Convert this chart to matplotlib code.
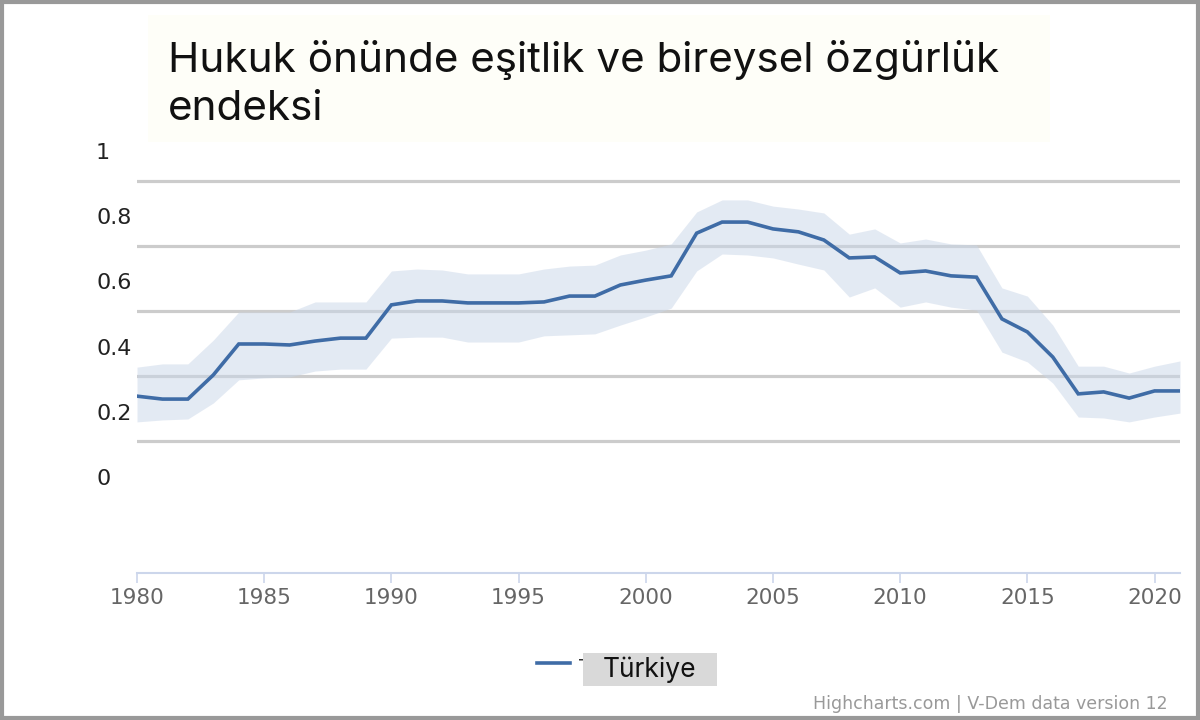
import numpy as np
import matplotlib.pyplot as plt
from matplotlib.patches import Rectangle
from matplotlib.lines import Line2D

years = list(range(1980, 2022))

# index value (line)
turkiye = [0.248, 0.239, 0.239, 0.313, 0.408, 0.408, 0.405, 0.417, 0.426, 0.426,
           0.528, 0.540, 0.540, 0.534, 0.534, 0.534, 0.537, 0.555, 0.555, 0.589,
           0.604, 0.617, 0.748, 0.782, 0.782, 0.761, 0.752, 0.727, 0.672, 0.675,
           0.626, 0.632, 0.617, 0.613, 0.485, 0.445, 0.368, 0.255, 0.261, 0.242,
           0.264, 0.264]

# confidence band
upper = [0.337, 0.347, 0.347, 0.420, 0.506, 0.506, 0.506, 0.537, 0.537, 0.537,
         0.632, 0.638, 0.635, 0.623, 0.623, 0.623, 0.638, 0.647, 0.650, 0.681,
         0.696, 0.715, 0.813, 0.850, 0.850, 0.831, 0.822, 0.810, 0.745, 0.761,
         0.718, 0.730, 0.715, 0.712, 0.580, 0.555, 0.466, 0.340, 0.340, 0.319,
         0.340, 0.356]
lower = [0.169, 0.175, 0.178, 0.227, 0.298, 0.304, 0.307, 0.325, 0.331, 0.331,
         0.426, 0.429, 0.429, 0.414, 0.414, 0.414, 0.433, 0.436, 0.439, 0.466,
         0.491, 0.518, 0.632, 0.684, 0.681, 0.672, 0.653, 0.635, 0.552, 0.580,
         0.521, 0.537, 0.521, 0.512, 0.383, 0.353, 0.288, 0.184, 0.181, 0.169,
         0.184, 0.196]

y_ticks = [0, 0.2, 0.4, 0.6, 0.8, 1]
y_labels = ["0", "0.2", "0.4", "0.6", "0.8", "1"]
x_ticks = list(range(1980, 2021, 5))

title = "Hukuk önünde eşitlik ve bireysel özgürlük\nendeksi"
series_name = "Türkiye"
credits = "Highcharts.com | V-Dem data version 12"

line_color = "#3f6ca6"
band_color = "#c9d6e8"

W, H = 1200, 720
fx = lambda px: px / W
fy = lambda py: 1 - py / H

fig = plt.figure(figsize=(12, 7.2), dpi=100)
fig.patch.set_facecolor("white")

# plot area (pixels): left 137, right 1180, top 140, bottom 573
# label "0" sits at y=477 px, label "1" at y=151 px
px0, px1 = 477, 151
unit = px0 - px1
ymin = (px0 - 573) / unit
ymax = (px0 - 140) / unit
ax = fig.add_axes([fx(137), fy(573), fx(1180) - fx(137), fy(140) - fy(573)])
ax.set_xlim(1980, 2021)
ax.set_ylim(ymin, ymax)
ax.set_facecolor("none")

# gridlines are drawn offset from the labels in the original
for g in np.arange(5) * 0.2 + 0.109:
    ax.axhline(g, color="#cccccc", lw=2.3, zorder=1)

ax.fill_between(years, lower, upper, color=band_color, alpha=0.5, lw=0, zorder=2)
ax.plot(years, turkiye, color=line_color, lw=2.6, zorder=3, solid_joinstyle="miter")

for s in ["top", "left", "right"]:
    ax.spines[s].set_visible(False)
ax.spines["bottom"].set_color("#ccd6eb")
ax.spines["bottom"].set_linewidth(1.5)

ax.set_xticks(x_ticks)
ax.set_xticklabels([str(x) for x in x_ticks])
ax.tick_params(axis="x", direction="out", length=7, width=1.2, color="#ccd6eb",
               labelcolor="#666666", labelsize=15.5, pad=4)

ax.set_yticks(y_ticks)
ax.set_yticklabels(y_labels)
ax.tick_params(axis="y", length=0, labelsize=16, labelcolor="#222222", pad=29.5)
for lab in ax.get_yticklabels():
    lab.set_horizontalalignment("left")

# title box
fig.patches.append(Rectangle((fx(148), fy(142)), fx(1050) - fx(148), fy(15) - fy(142),
                             transform=fig.transFigure, facecolor="#fefef8",
                             edgecolor="none", zorder=0))
fig.text(fx(168), fy(120), title, fontsize=30.4, family=["Inter", "DejaVu Sans"],
         color="#111111", va="baseline", ha="left", linespacing=1.33)

# legend
fig.add_artist(Line2D([fx(537), fx(570)], [fy(663), fy(663)], color=line_color,
                      lw=2.6, transform=fig.transFigure))
fig.text(fx(579), fy(673), series_name, fontsize=14, color="#333333", ha="left",
         va="baseline", zorder=1)
fig.patches.append(Rectangle((fx(583), fy(686)), fx(717) - fx(583), fy(653) - fy(686),
                             transform=fig.transFigure, facecolor="#d9d9d9",
                             edgecolor="none", zorder=2))
fig.text(fx(650), fy(669.5), series_name, fontsize=19, family=["Inter", "DejaVu Sans"],
         color="#111111", ha="center", va="center", zorder=3)

fig.text(fx(1168), fy(709), credits, fontsize=12.5, color="#999999", ha="right",
         va="baseline")

# outer frame
fig.patches.append(Rectangle((0.0015, 0.0025), 0.997, 0.995, transform=fig.transFigure,
                             facecolor="none", edgecolor="#999999", lw=3, zorder=5))

plt.savefig("out.png", dpi=100)
